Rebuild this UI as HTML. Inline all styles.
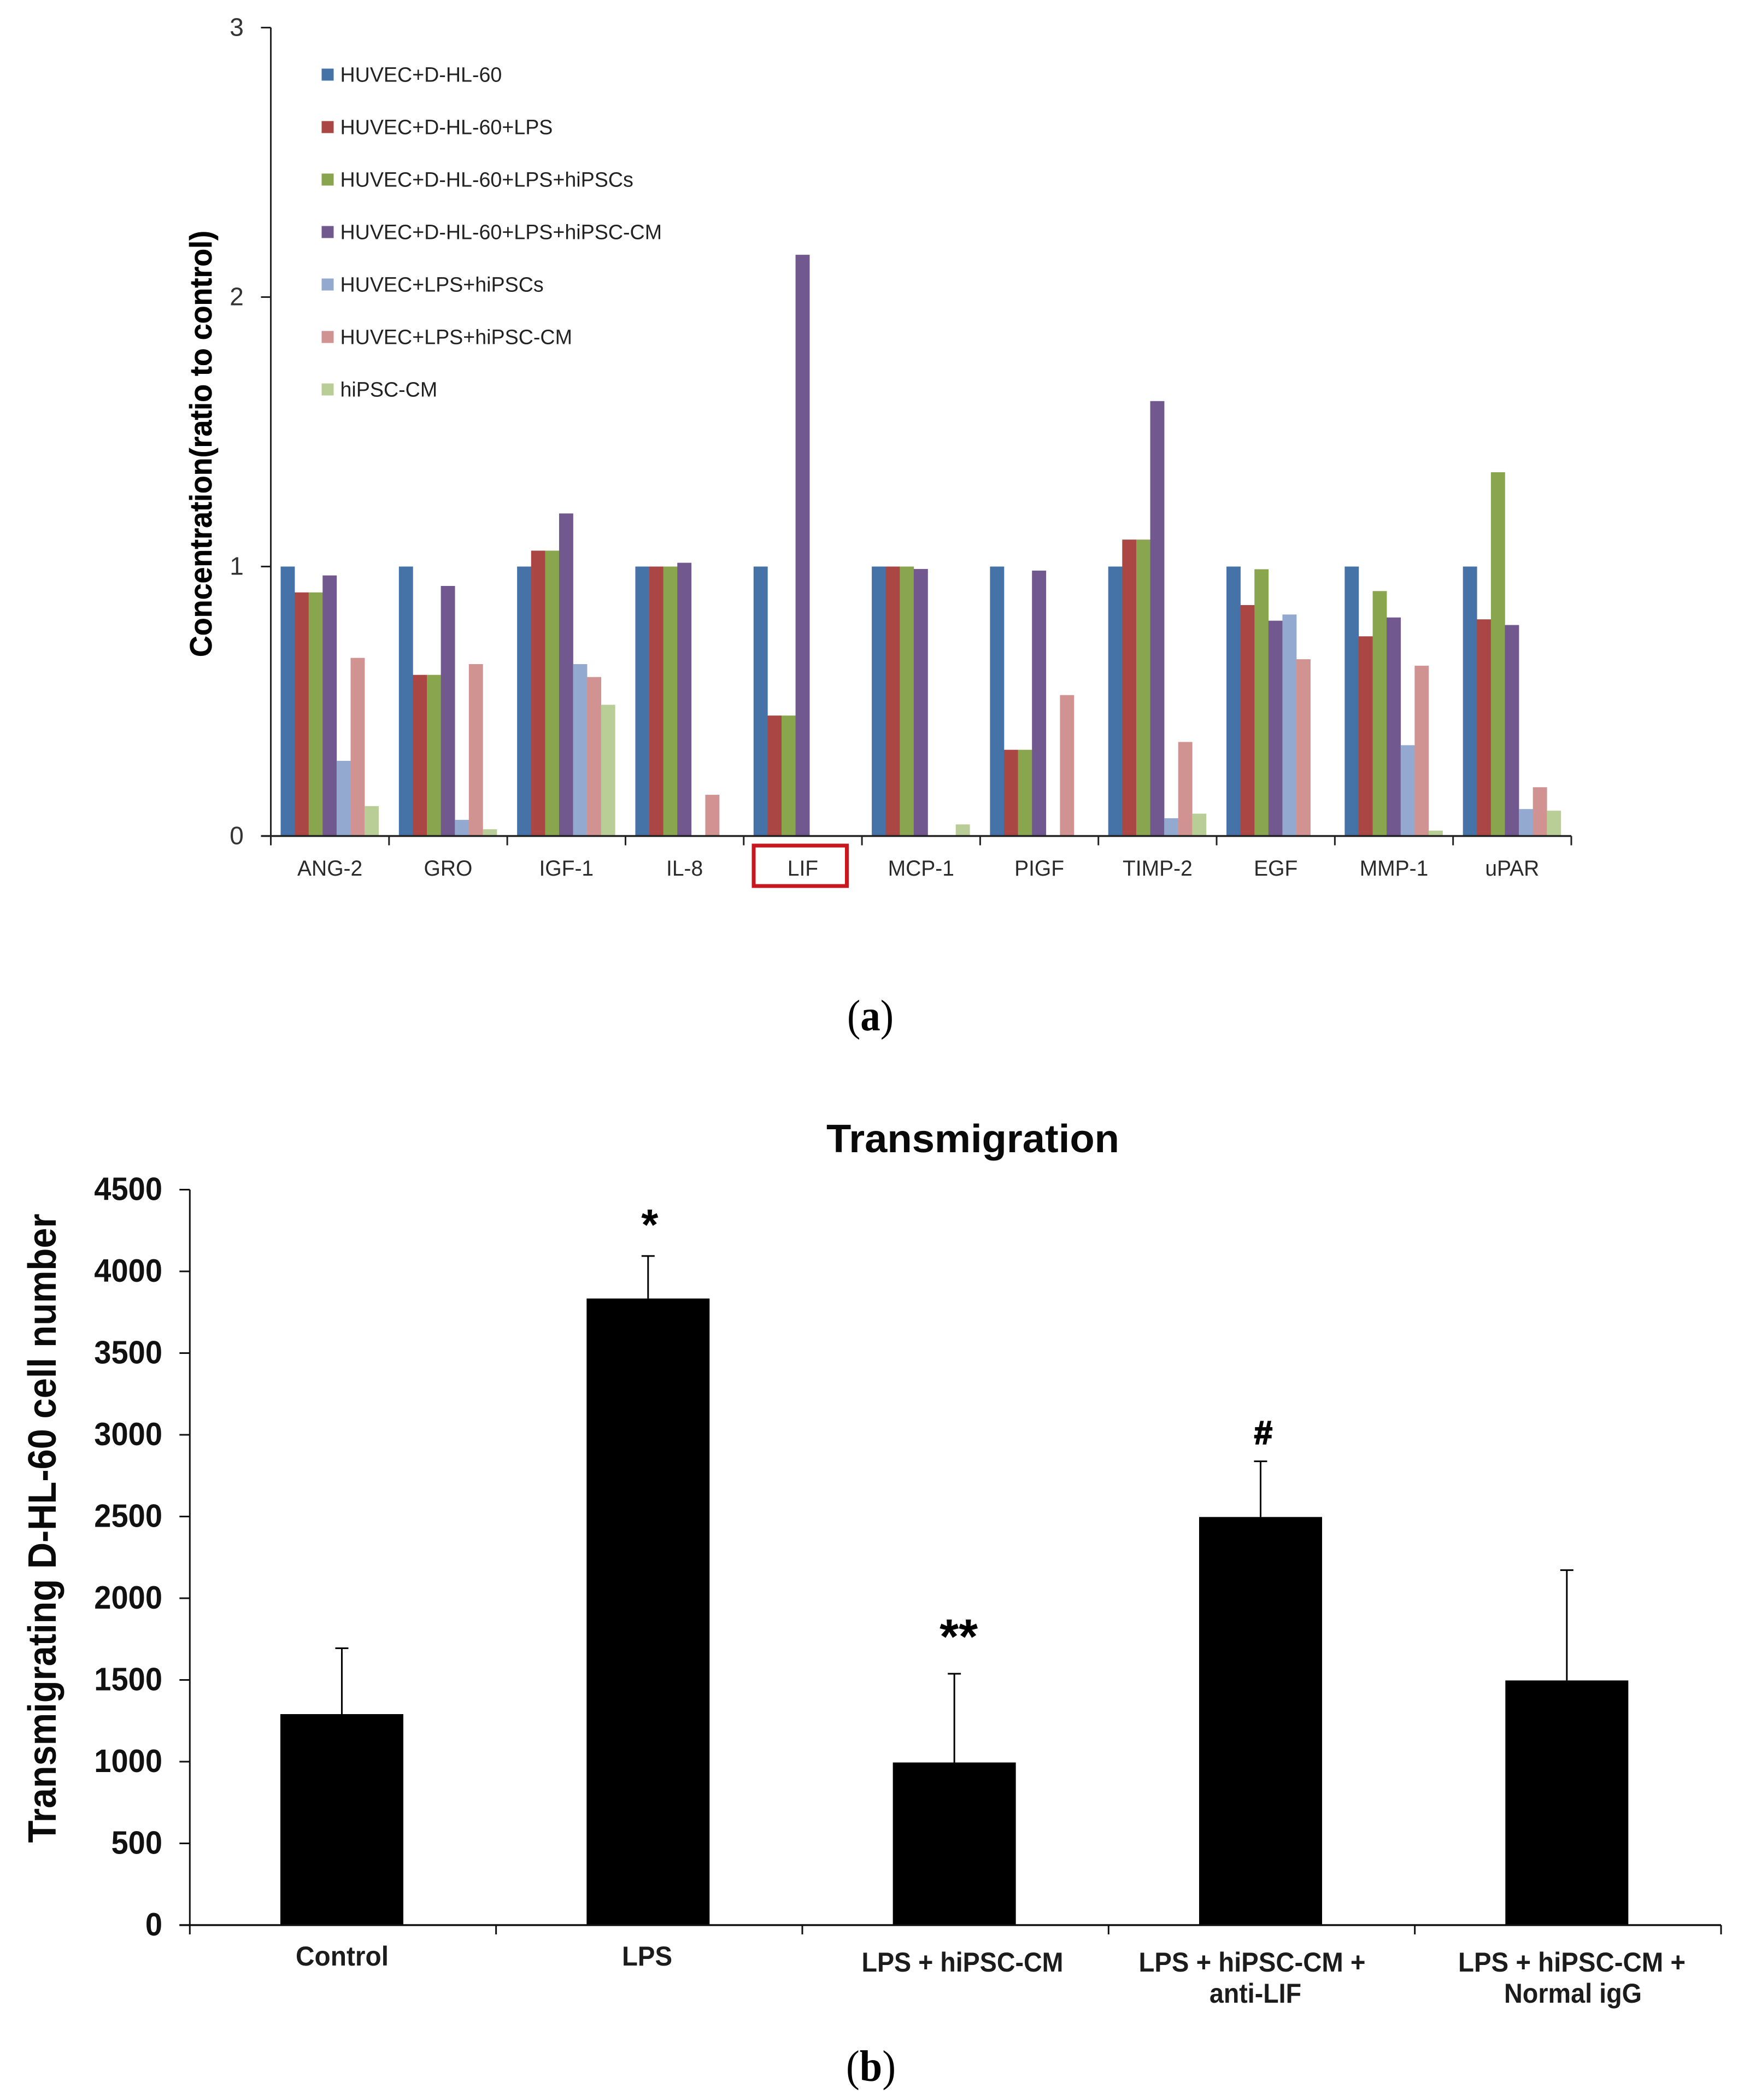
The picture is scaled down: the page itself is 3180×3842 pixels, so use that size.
<!DOCTYPE html>
<html lang="en">
<head>
<meta charset="utf-8">
<title>Cytokine concentration and transmigration charts</title>
<style>
html,body{margin:0;padding:0;background:#fff;width:3180px;height:3842px;overflow:hidden}
svg{display:block}
text{font-family:"Liberation Sans",sans-serif}
.serif{font-family:"Liberation Serif",serif}
</style>
</head>
<body>
<svg id="figure" xmlns="http://www.w3.org/2000/svg" width="3180" height="3842" viewBox="0 0 3180 3842">
  <rect x="0" y="0" width="3180" height="3842" fill="#ffffff"/>
  <g id="chartA"></g>
  <g id="chartB"></g>

  <text transform="translate(387,812) rotate(-90)" text-anchor="middle" font-size="57" font-weight="700" fill="#000" stroke="#000" stroke-width="0.6" textLength="780" lengthAdjust="spacingAndGlyphs">Concentration(ratio to control)</text>
  <rect x="1379" y="1547" width="170.5" height="74" fill="none" stroke="#c8171e" stroke-width="7"/>
  <text class="serif" x="1550" y="1885" font-size="80" fill="#000" textLength="85" lengthAdjust="spacingAndGlyphs">(<tspan font-weight="700">a</tspan>)</text>

  <text x="1512" y="2108" font-size="72" font-weight="700" fill="#0a0a0a" textLength="536" lengthAdjust="spacingAndGlyphs">Transmigration</text>
  <text transform="translate(102,2796) rotate(-90)" text-anchor="middle" font-size="72" font-weight="700" fill="#0a0a0a" textLength="1151" lengthAdjust="spacingAndGlyphs">Transmigrating D-HL-60 cell number</text>

  <g font-size="50" font-weight="700" fill="#1c1c1c" text-anchor="middle">
    <text x="626" y="3596" textLength="170" lengthAdjust="spacingAndGlyphs">Control</text>
    <text x="1184" y="3596" textLength="92" lengthAdjust="spacingAndGlyphs">LPS</text>
    <text x="1761" y="3607" textLength="369" lengthAdjust="spacingAndGlyphs">LPS + hiPSC-CM</text>
    <text x="2291" y="3607" textLength="415" lengthAdjust="spacingAndGlyphs">LPS + hiPSC-CM +</text>
    <text x="2297" y="3664" textLength="168" lengthAdjust="spacingAndGlyphs">anti-LIF</text>
    <text x="2876" y="3607" textLength="416" lengthAdjust="spacingAndGlyphs">LPS + hiPSC-CM +</text>
    <text x="2878" y="3664" textLength="252" lengthAdjust="spacingAndGlyphs">Normal igG</text>
  </g>
  <text class="serif" x="1548" y="3807" font-size="80" fill="#000" textLength="91" lengthAdjust="spacingAndGlyphs">(<tspan font-weight="700">b</tspan>)</text>
</svg>

<script>
// ---------- Chart A data ----------
const categoriesA = ['ANG-2','GRO','IGF-1','IL-8','LIF','MCP-1','PIGF','TIMP-2','EGF','MMP-1','uPAR'];
const seriesNames = ['HUVEC+D-HL-60','HUVEC+D-HL-60+LPS','HUVEC+D-HL-60+LPS+hiPSCs','HUVEC+D-HL-60+LPS+hiPSC-CM','HUVEC+LPS+hiPSCs','HUVEC+LPS+hiPSC-CM','hiPSC-CM'];
const seriesColors = ['#4572a7','#aa4643','#89a54e','#71588f','#93a9cf','#d19392','#b9cd96'];
const huvecDhl = [1,1,1,1,1,1,1,1,1,1,1];
const huvecDhlLps = [0.904,0.598,1.059,1,0.447,1,0.32,1.10,0.857,0.741,0.804];
const huvecDhlLpsCells = [0.904,0.598,1.059,1,0.447,1,0.32,1.10,0.99,0.909,1.35];
const huvecDhlLpsCm = [0.967,0.928,1.197,1.014,2.157,0.991,0.985,1.614,0.799,0.811,0.783];
const huvecLpsCells = [0.279,0.06,0.638,0,0,0,0,0.066,0.822,0.337,0.1];
const huvecLpsCm = [0.661,0.638,0.59,0.153,0,0,0.523,0.349,0.656,0.632,0.181];
const cmOnly = [0.111,0.025,0.487,0,0,0.043,0,0.083,0,0.02,0.094];
const ticksA = [0,1,2,3];

// ---------- Chart B data ----------
const categoriesB = ['Control','LPS','LPS + hiPSC-CM','LPS + hiPSC-CM + anti-LIF','LPS + hiPSC-CM + Normal igG'];
const cellCounts = [1291,3834,995,2497,1497];
const errorTops = [1694,4094,1538,2838,2172];
const ticksB = [0,500,1000,1500,2000,2500,3000,3500,4000,4500];
const markers = ['','*','**','#',''];

// ---------- helpers ----------
const NS = 'http://www.w3.org/2000/svg';
function make(parent, tag, attrs, txt) {
  const el = document.createElementNS(NS, tag);
  for (const k in attrs) el.setAttribute(k, attrs[k]);
  if (txt !== undefined) el.textContent = txt;
  parent.appendChild(el);
  return el;
}
function slug(s) { return s.toLowerCase().replace(/[^a-z0-9]+/g, '-').replace(/^-|-$/g, ''); }
function fit(el, factor) {
  el.setAttribute('textLength', el.getComputedTextLength() * factor);
  el.setAttribute('lengthAdjust', 'spacingAndGlyphs');
}

// ---------- Chart A ----------
const gA = document.getElementById('chartA');
const seriesA = [huvecDhl, huvecDhlLps, huvecDhlLpsCells, huvecDhlLpsCm, huvecLpsCells, huvecLpsCm, cmOnly];
const aLeft = 495.5, aRight = 2875, aZero = 1529.5, aUnit = 493;
const aStep = (aRight - aLeft) / categoriesA.length, aBarW = 25.6, aInset = 18;
const xA = (c, s) => aLeft + c * aStep + aInset + s * aBarW;
const yA = v => aZero - v * aUnit;

seriesA.forEach((vals, s) => {
  vals.forEach((v, c) => {
    if (v <= 0) return;
    const bar = make(gA, 'rect', {x: xA(c, s), y: yA(v), width: aBarW + 0.3, height: aZero - yA(v), fill: seriesColors[s]});
    
    
  });
});

const axisYA = make(gA, 'line', {x1: aLeft, y1: yA(3), x2: aLeft, y2: aZero, stroke: '#222', 'stroke-width': 3});


const axisXA = make(gA, 'line', {x1: aLeft - 18, y1: aZero, x2: aRight, y2: aZero, stroke: '#222', 'stroke-width': 3.5});



ticksA.forEach(t => {
  const tick = make(gA, 'line', {x1: aLeft - 18, y1: yA(t), x2: aLeft, y2: yA(t), stroke: '#222', 'stroke-width': 3});
  
  
  const lab = make(gA, 'text', {x: 433, y: yA(t) + 15, 'font-size': 46, fill: '#333', 'text-anchor': 'middle'}, String(t));
  
  
});

for (let c = 0; c <= categoriesA.length; c++) {
  const xt = aLeft + c * aStep;
  const tick = make(gA, 'line', {x1: xt, y1: aZero, x2: xt, y2: aZero + 17, stroke: '#222', 'stroke-width': 3});
  
  
}
categoriesA.forEach((name, c) => {
  const lab = make(gA, 'text', {x: aLeft + (c + 0.5) * aStep, y: 1602, 'font-size': 40, fill: '#2a2a2a', 'text-anchor': 'middle'}, name);
  
  
  fit(lab, 0.975);
});

seriesNames.forEach((name, s) => {
  const rowY = 136.5 + s * 96;
  const sw = make(gA, 'rect', {x: 588.5, y: rowY - 11, width: 22, height: 22, fill: seriesColors[s]});
  
  
  const lab = make(gA, 'text', {x: 622.5, y: rowY + 13, 'font-size': 38, fill: '#222'}, name);
  
  
  fit(lab, 0.99);
});

// ---------- Chart B ----------
const gB = document.getElementById('chartB');
const bLeft = 347.3, bRight = 3149, bZero = 3522, bPerUnit = 149.5 / 500;
const bStep = (bRight - bLeft) / categoriesB.length, bBarW = 225, bBarShift = -2;
const xB = i => bLeft + (i + 0.5) * bStep + bBarShift;
const yB = v => bZero - v * bPerUnit;

cellCounts.forEach((v, i) => {
  const err = make(gB, 'line', {x1: xB(i), y1: yB(errorTops[i]), x2: xB(i), y2: yB(v), stroke: '#000', 'stroke-width': 3});
  
  
  const cap = make(gB, 'line', {x1: xB(i) - 12, y1: yB(errorTops[i]), x2: xB(i) + 12, y2: yB(errorTops[i]), stroke: '#000', 'stroke-width': 3});
  
  
  const bar = make(gB, 'rect', {x: xB(i) - bBarW / 2, y: yB(v), width: bBarW, height: bZero - yB(v), fill: '#000'});
  
  
  if (markers[i]) {
    const m = markers[i];
    const dx = m === '*' ? 3 : (m === '**' ? 8 : 5);
    const dy = m === '*' ? -30 : (m === '**' ? -37 : -32);
    const size = m === '*' ? 80 : (m === '**' ? 90 : 60);
    const mark = make(gB, 'text', {x: xB(i) + dx, y: yB(errorTops[i]) + dy, 'font-size': size, 'font-weight': 700, fill: '#000', stroke: '#000', 'stroke-width': m === '#' ? 2 : 0, 'text-anchor': 'middle'}, m);
    
    
  }
});

const axisYB = make(gB, 'line', {x1: bLeft, y1: yB(4500), x2: bLeft, y2: bZero, stroke: '#111', 'stroke-width': 3});


const axisXB = make(gB, 'line', {x1: bLeft - 19, y1: bZero, x2: bRight, y2: bZero, stroke: '#111', 'stroke-width': 3.5});



ticksB.forEach(t => {
  const tick = make(gB, 'line', {x1: bLeft - 19, y1: yB(t), x2: bLeft, y2: yB(t), stroke: '#111', 'stroke-width': 3});
  
  
  const lab = make(gB, 'text', {x: 297, y: yB(t) + 19, 'font-size': 59, 'font-weight': 700, fill: '#111', 'text-anchor': 'end'}, String(t));
  
  
  fit(lab, 0.95);
});
for (let i = 0; i <= categoriesB.length; i++) {
  const xt = bLeft + i * bStep;
  const tick = make(gB, 'line', {x1: xt, y1: bZero, x2: xt, y2: bZero + 17, stroke: '#111', 'stroke-width': 3});
  
  
}
</script>
</body>
</html>
